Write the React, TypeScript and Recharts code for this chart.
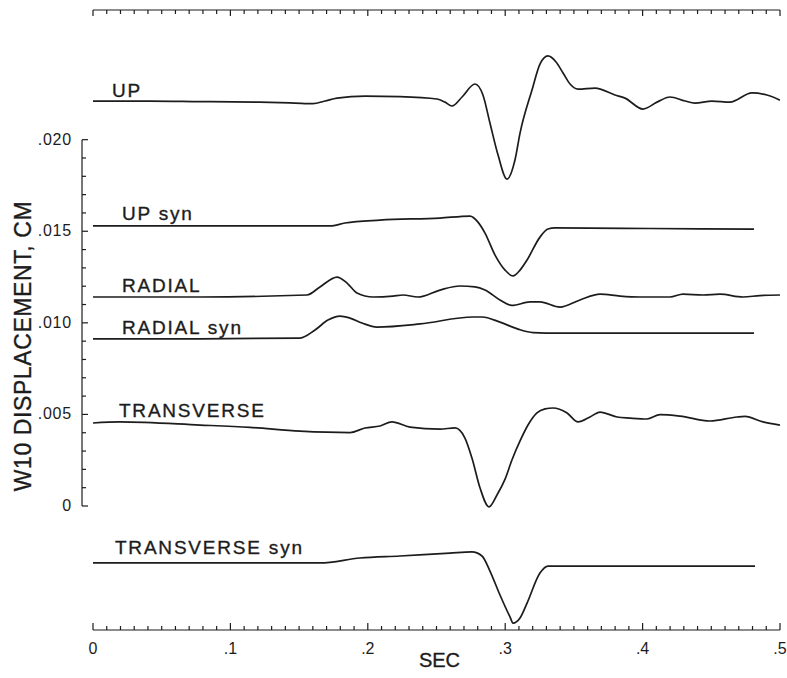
import React from "react"
import { Line, LineChart, ReferenceDot, ReferenceLine, XAxis, YAxis } from "recharts"

const INK = "#1c1c1c"
const FONT = "'Liberation Sans', Arial, Helvetica, sans-serif"

// time (sec) and displacement (cm)
const UP_T = [0, .0415, .0779, .1215, .147, .1601, .1688, .1776, .198, .2234, .2504, .2562, .2613, .2686, .278, .2838, .2889, .2948, .3013, .3071, .3108, .3195, .3253, .3311, .337, .3421, .3472, .353, .3654, .3799, .3872, .4003, .4105, .4199, .4309, .4381, .4505, .4636, .4796, .4905, .5]
const UP_V = [.02211, .02211, .02208, .02205, .022, .02197, .02211, .02227, .02238, .02235, .02222, .02205, .02184, .02233, .02304, .02244, .02091, .01916, .01785, .01889, .02036, .02271, .02413, .02457, .02424, .02364, .02304, .02276, .02282, .02244, .02227, .02167, .02205, .02233, .02211, .022, .02211, .02205, .02255, .02244, .02216]

const UP_SYN_T = [0, .0779, .1725, .1834, .2089, .2525, .2744, .2802, .2853, .2926, .2999, .3057, .3108, .3159, .3253, .3311, .3362, .4054, .4811]
const UP_SYN_V = [.01529, .01529, .01529, .01545, .01561, .01572, .01583, .0155, .0149, .0137, .01288, .01256, .01288, .01343, .01468, .01512, .01518, .01515, .01512]

const RADIAL_T = [0, .0779, .1557, .1652, .1776, .1849, .1921, .2038, .2183, .2256, .2365, .2525, .2671, .278, .2853, .2962, .3049, .318, .3253, .3399, .3544, .369, .3836, .3981, .4199, .4294, .444, .4563, .4731, .4854, .5]
const RADIAL_V = [.01141, .01141, .01152, .01196, .0125, .01217, .01163, .01141, .01146, .01152, .01141, .01179, .01201, .01196, .01179, .01125, .01095, .01114, .01114, .01086, .01125, .01157, .01146, .01141, .01141, .01157, .01152, .01157, .01141, .01149, .01152]

const RADIAL_SYN_T = [0, .0779, .1507, .1616, .171, .1798, .187, .1958, .2067, .238, .2766, .2831, .2962, .3093, .3202, .3399, .4811]
const RADIAL_SYN_V = [.00912, .00912, .00917, .00961, .01015, .01037, .01026, .00999, .00977, .00994, .01032, .01032, .01004, .00966, .00947, .00944, .00944]

const TRANS_T = [0, .0197, .0779, .1143, .1507, .187, .198, .2089, .2176, .2307, .2525, .2635, .2707, .2758, .2817, .2882, .294, .2999, .3049, .3108, .3166, .3231, .329, .3348, .345, .353, .3617, .369, .3814, .3908, .4032, .4127, .4272, .4491, .4687, .4745, .4876, .5]
const TRANS_V = [.00453, .00459, .00442, .00429, .00409, .00401, .00426, .00437, .00459, .00431, .0042, .00426, .00371, .00262, .00098, -.00005, .0006, .00147, .00251, .00355, .00442, .00508, .0053, .00535, .00508, .00459, .00486, .00513, .00486, .0048, .00475, .00499, .00491, .00464, .00486, .00489, .00459, .00442]

const TRANS_SYN_T = [0, .0779, .1652, .1943, .2234, .2598, .2758, .2831, .2889, .2962, .3035, .3057, .3108, .3159, .3253, .3311, .3399, .4818]
const TRANS_SYN_V = [-.00311, -.00311, -.00311, -.00284, -.00273, -.00257, -.00251, -.00273, -.00355, -.00486, -.00606, -.00639, -.00611, -.0053, -.00366, -.00328, -.00328, -.00328]

// trace names and where their captions sit (sec, cm)
const TRACE_NAMES = ["UP", "UP syn", "RADIAL", "RADIAL syn", "TRANSVERSE", "TRANSVERSE syn"]
const NAME_T = [.0138, .0211, .0211, .0211, .0189, .016]
const NAME_V = [.02233, .01561, .01168, .00939, .00486, -.00262]

const X_TICK_LABELS = ["0", ".1", ".2", ".3", ".4", ".5"]
const Y_TICK_LABELS = ["0", ".005", ".010", ".015", ".020"]
const X_TICKS = Array.from({ length: 51 }, (_, i) => i / 100)
const Y_TICKS = Array.from({ length: 21 }, (_, i) => i / 1000)

const X_DOMAIN: [number, number] = [0, 0.5]
const Y_DOMAIN: [number, number] = [-0.00677, 0.02708]
const Y_AXIS_AT = -0.008

const toPoints = (t: number[], v: number[]) => t.map((x, i) => ({ t: x, v: v[i] }))

const SERIES = [
    toPoints(UP_T, UP_V),
    toPoints(UP_SYN_T, UP_SYN_V),
    toPoints(RADIAL_T, RADIAL_V),
    toPoints(RADIAL_SYN_T, RADIAL_SYN_V),
    toPoints(TRANS_T, TRANS_V),
    toPoints(TRANS_SYN_T, TRANS_SYN_V),
]

function BottomTick({ x, y, payload }: any) {
    const i = Math.round(payload.value * 100)
    const major = i % 10 === 0
    return (
        <g>
            <line x1={x} x2={x} y1={y} y2={y - (major ? 7 : 4)} stroke={INK} strokeWidth={1.2} />
            {major ? (
                <text x={x} y={y + 24} textAnchor="middle" fontSize={16} fill={INK} fontFamily={FONT}>
                    {X_TICK_LABELS[i / 10]}
                </text>
            ) : null}
        </g>
    )
}

function TopTick({ x, y, payload }: any) {
    const i = Math.round(payload.value * 100)
    const major = i % 10 === 0
    return <line x1={x} x2={x} y1={y} y2={y + (major ? 6 : 4)} stroke={INK} strokeWidth={1.2} />
}

function LeftTick({ x, y, payload }: any) {
    const i = Math.round(payload.value * 1000)
    const major = i % 5 === 0
    const ax = x - 11
    return (
        <g>
            <line x1={ax} x2={ax + (major ? 6 : 4)} y1={y} y2={y} stroke={INK} strokeWidth={1.2} />
            {major ? (
                <text x={ax - 10} y={y + 5} textAnchor="end" fontSize={16} letterSpacing={0.8} fill={INK} fontFamily={FONT}>
                    {Y_TICK_LABELS[i / 5]}
                </text>
            ) : null}
        </g>
    )
}

const traceCaption = (name: string) => (props: any) => {
    const vb = props.viewBox || {}
    return (
        <text
            x={vb.x}
            y={vb.y}
            fontSize={19}
            letterSpacing={1.8}
            fill={INK}
            stroke={INK}
            strokeWidth={0.35}
            fontFamily={FONT}
        >
            {name}
        </text>
    )
}

export default function App() {
    return (
        <div style={{ width: 787, height: 678, background: "#fff" }}>
            <style>{"body{margin:0}"}</style>
            <LineChart width={787} height={678} margin={{ top: 0, right: 7, bottom: 18, left: 33 }}>
                <XAxis
                    xAxisId="bottom"
                    dataKey="t"
                    type="number"
                    domain={X_DOMAIN}
                    ticks={X_TICKS}
                    interval={0}
                    allowDataOverflow
                    height={30}
                    tickSize={0}
                    tickMargin={0}
                    tickLine={false}
                    axisLine={{ stroke: INK, strokeWidth: 1.2 }}
                    tick={BottomTick}
                    label={{
                        content: (p: any) => (
                            <text
                                x={p.viewBox.x + p.viewBox.width / 2 + 3}
                                y={p.viewBox.y + 37}
                                textAnchor="middle"
                                fontSize={20}
                                fill={INK}
                                stroke={INK}
                                strokeWidth={0.35}
                                fontFamily={FONT}
                            >
                                SEC
                            </text>
                        ),
                    }}
                />
                <XAxis
                    xAxisId="top"
                    orientation="top"
                    dataKey="t"
                    type="number"
                    domain={X_DOMAIN}
                    ticks={X_TICKS}
                    interval={0}
                    allowDataOverflow
                    height={10}
                    tickSize={0}
                    tickMargin={0}
                    tickLine={false}
                    axisLine={{ stroke: INK, strokeWidth: 1.2 }}
                    tick={TopTick}
                />
                <YAxis
                    type="number"
                    domain={Y_DOMAIN}
                    ticks={Y_TICKS}
                    interval={0}
                    allowDataOverflow
                    width={60}
                    tickSize={0}
                    tickMargin={0}
                    tickLine={false}
                    axisLine={false}
                    tick={LeftTick}
                    label={{
                        content: (p: any) => {
                            const cx = p.viewBox.x + p.viewBox.width - 70
                            const cy = p.viewBox.y + p.viewBox.height / 2 + 26
                            return (
                                <text
                                    x={cx}
                                    y={cy}
                                    transform={`rotate(-90 ${cx} ${cy})`}
                                    textAnchor="middle"
                                    dominantBaseline="central"
                                    fontSize={23}
                                    letterSpacing={0.6}
                                    fill={INK}
                                    stroke={INK}
                                    strokeWidth={0.35}
                                    fontFamily={FONT}
                                >
                                    W10 DISPLACEMENT, CM
                                </text>
                            )
                        },
                    }}
                />
                <ReferenceLine
                    xAxisId="bottom"
                    segment={[
                        { x: Y_AXIS_AT, y: Y_TICKS[0] },
                        { x: Y_AXIS_AT, y: Y_TICKS[Y_TICKS.length - 1] },
                    ]}
                    stroke={INK}
                    strokeWidth={1.2}
                    ifOverflow="visible"
                />
                {SERIES.map((data, i) => (
                    <Line
                        key={TRACE_NAMES[i]}
                        xAxisId="bottom"
                        data={data}
                        dataKey="v"
                        type="monotone"
                        stroke={INK}
                        strokeWidth={1.7}
                        dot={false}
                        activeDot={false}
                        isAnimationActive={false}
                    />
                ))}
                {TRACE_NAMES.map((name, i) => (
                    <ReferenceDot
                        key={"cap-" + name}
                        xAxisId="bottom"
                        x={NAME_T[i]}
                        y={NAME_V[i]}
                        r={0}
                        fill="none"
                        stroke="none"
                        ifOverflow="visible"
                        label={{ content: traceCaption(name) }}
                    />
                ))}
            </LineChart>
        </div>
    )
}
